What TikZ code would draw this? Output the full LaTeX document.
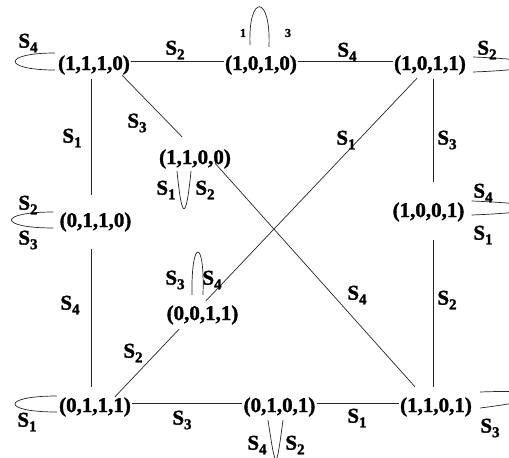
\documentclass[tikz,border=0pt]{standalone}
\usepackage{fontspec}
\setmainfont{Liberation Serif}[BoldFont={Liberation Serif Bold}, BoldFeatures={FakeBold=1.5}]
\usetikzlibrary{calc}
\pgfdeclarelayer{bg}
\pgfsetlayers{bg,main}
\newcommand\Sx[1]{S\raisebox{-0.22em}{\fontsize{15}{15}\selectfont #1}}
\begin{document}
\begin{tikzpicture}[x=1pt,y=-1pt,
  st/.style={font=\bfseries\fontsize{21}{21}\selectfont, inner xsep=1pt, inner ysep=4pt},
  lab/.style={font=\bfseries\fontsize{21}{21}\selectfont, inner sep=0pt},
  small/.style={font=\bfseries\fontsize{12}{12}\selectfont, inner sep=0pt},
  edge/.style={line width=0.7pt, black!85},
]
\clip (0,0) rectangle (509,458);
\node[st] (n1110) at (94,65) {(1,1,1,0)};
\node[st] (n1010) at (261,65) {(1,0,1,0)};
\node[st] (n1011) at (430,65) {(1,0,1,1)};
\node[st] (n1100) at (195,159) {(1,1,0,0)};
\node[st] (n0110) at (95.5,222) {(0,1,1,0)};
\node[st] (n1001) at (428.5,212) {(1,0,0,1)};
\node[st,fill=white] (n0011) at (202.5,315) {(0,0,1,1)};
\node[st] (n0111) at (95,407) {(0,1,1,1)};
\node[st] (n0101) at (279.5,407) {(0,1,0,1)};
\node[st] (n1101) at (436,407) {(1,1,0,1)};
\begin{pgfonlayer}{bg}
\fill[white] (0,0) rectangle (509,458);
% horizontal
\draw[edge] ([yshift=4pt]n1110.east) -- ([yshift=4pt]n1010.west);
\draw[edge] ([yshift=4pt]n1010.east) -- ([yshift=4pt]n1011.west);
\draw[edge] ([yshift=4pt]n0111.east) -- ([yshift=4pt]n0101.west);
\draw[edge] ([yshift=4pt]n0101.east) -- ([yshift=4pt]n1101.west);
% vertical
\draw[edge] ([xshift=-3pt]n1110.south) -- ([xshift=-4.5pt,yshift=13.5pt]n0110.north);
\draw[edge] ([xshift=-4.5pt,yshift=-13pt]n0110.south) -- ([xshift=-4pt,yshift=6pt]n0111.north);
\draw[edge] ([xshift=3pt]n1011.south) -- ([xshift=4.5pt,yshift=16pt]n1001.north);
\draw[edge] ([xshift=4.5pt,yshift=-14pt]n1001.south) -- ([xshift=-3pt,yshift=6pt]n1101.north);
% diagonals
\draw[edge] ([shift={(-9pt,3.5pt)}]n1110.south east) -- ([shift={(-13pt,8.5pt)}]n1100.north);
\draw[edge] ([shift={(-17pt,9.5pt)}]n1100.south east) -- ([shift={(16pt,6.5pt)}]n1101.north west);
\draw[edge] ([shift={(20pt,-3.5pt)}]n0111.north) -- ([xshift=-10pt]n0011.center) -- ([shift={(-13pt,0.5pt)}]n1011.south);
% loops
\draw[edge] ($(n1110.west)+(-2,-12)$) .. controls +(-53,0) and +(-53,0) .. ($(n1110.west)+(-2,5)$);
\draw[edge] ($(n0110.west)+(-5,-10)$) .. controls +(-56,0) and +(-56,0) .. ($(n0110.west)+(-5,6)$);
\draw[edge] ($(n0111.west)+(-1,-11)$) .. controls +(-56,0) and +(-56,0) .. ($(n0111.west)+(-1,5)$);
\draw[edge] ($(n1011.east)+(6,-8)$) .. controls +(80,3) and +(80,-3) .. ($(n1011.east)+(6,7)$);
\draw[edge] ($(n1001.east)+(6,-11)$) .. controls +(80,3) and +(80,-3) .. ($(n1001.east)+(6,3)$);
\draw[edge] ($(n1101.east)+(7,-15)$) .. controls +(80,-3) and +(80,-10) .. ($(n1101.east)+(7,1)$);
\draw[edge] ($(n1010.north)+(-11,-6.5)$) .. controls +(-2,-51) and +(2,-53) .. ($(n1010.north)+(8,-4.5)$);
\draw[edge] ($(n1100.south)+(-18,-1.5)$) .. controls +(5,50) and +(-5,50) .. ($(n1100.south)+(-4,-1.5)$);
\draw[edge] ($(n0011.north)+(-10.5,-6.5)$) .. controls +(-1,-57) and +(2,-57) .. ($(n0011.north)+(0.5,-6.5)$);
\draw[edge] ($(n0101.south)+(-11.5,-0.5)$) .. controls +(8,52) and +(-7,52) .. ($(n0101.south)+(3.5,-0.5)$);
\end{pgfonlayer}
% labels
\node[lab] (a1) at (28,43) {\Sx{4}};
\node[lab] (a2) at (175,50) {\Sx{2}};
\node[small] (a3) at (243,33) {1};
\node[small] (a4) at (288,33) {3};
\node[lab] (a5) at (347,52) {\Sx{4}};
\node[lab] (a6) at (487,50) {\Sx{2}};
\node[lab] (a7) at (137,123) {\Sx{3}};
\node[lab] (a8) at (72,138) {\Sx{1}};
\node[lab] (a9) at (447,140) {\Sx{3}};
\node[lab] (a10) at (346,140) {\Sx{1}};
\node[lab] (a11) at (166,190) {\Sx{1}};
\node[lab] (a12) at (205,190) {\Sx{2}};
\node[lab] (a13) at (28,205) {\Sx{2}};
\node[lab] (a14) at (28,240) {\Sx{3}};
\node[lab] (a15) at (483,193) {\Sx{4}};
\node[lab] (a16) at (483,235) {\Sx{1}};
\node[lab] (a17) at (175,280) {\Sx{3}};
\node[lab] (a18) at (212,280) {\Sx{4}};
\node[lab] (a19) at (70,305) {\Sx{4}};
\node[lab] (a20) at (357,295) {\Sx{4}};
\node[lab] (a21) at (447,300) {\Sx{2}};
\node[lab] (a22) at (133,353) {\Sx{2}};
\node[lab] (a23) at (27,422) {\Sx{1}};
\node[lab] (a24) at (182,420) {\Sx{3}};
\node[lab] (a25) at (357,418) {\Sx{1}};
\node[lab] (a26) at (490,428) {\Sx{3}};
\node[lab] (a27) at (257,445) {\Sx{4}};
\node[lab] (a28) at (295,445) {\Sx{2}};
\end{tikzpicture}
\end{document}
